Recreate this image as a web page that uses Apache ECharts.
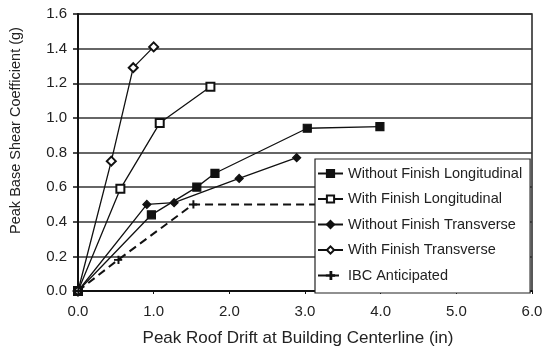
<!DOCTYPE html>
<html><head><meta charset="utf-8">
<script src="https://cdn.jsdelivr.net/npm/echarts@6/dist/echarts.min.js"></script>
<style>html,body{margin:0;padding:0;background:#fff}#c{width:546px;height:352px}</style>
</head><body><div id="c"></div>
<script>
// Data
const seriesNames = ["Without Finish Longitudinal","With Finish Longitudinal","Without Finish Transverse","With Finish Transverse","IBC Anticipated"];
const woFinishLong = [[0,0],[0.97,0.44],[1.57,0.60],[1.81,0.68],[3.03,0.94],[3.99,0.95]];
const wFinishLong  = [[0,0],[0.56,0.59],[1.08,0.97],[1.75,1.18]];
const woFinishTrans = [[0,0],[0.91,0.50],[1.27,0.51],[2.13,0.65],[2.89,0.77]];
const wFinishTrans  = [[0,0],[0.44,0.75],[0.73,1.29],[1.0,1.41]];
const ibc = [[0,0],[0.53,0.18],[1.52,0.50],[4.2,0.50]];
const xTicks = [0,1,2,3,4,5,6];
const yTicks = [0,0.2,0.4,0.6,0.8,1.0,1.2,1.4,1.6];

const FONT = '"Liberation Sans", Arial, sans-serif';
const star = 'path://M0,4.5L9,4.5L9,5.5L0,5.5Z M4.5,0L5.5,0L5.5,10L4.5,10Z';
function mk(name, data, symbol, size, extra) {
  return Object.assign({
    name, type:'line', data, symbol, symbolSize:size, showSymbol:true,
    lineStyle:{color:'#111', width:1.3},
    itemStyle:{color:'#111', borderColor:'#111', borderWidth:1.2},
    emphasis:{disabled:true}, animation:false
  }, extra||{});
}
const chart = echarts.init(document.getElementById('c'));
chart.setOption({
  animation:false,
  textStyle:{fontFamily:FONT},
  grid:{left:76, right:14, top:14, bottom:59, show:true, borderColor:'#222', borderWidth:1.5},
  xAxis:{type:'value', min:xTicks[0], max:xTicks[xTicks.length-1], interval:1,
    name:'Peak Roof Drift at Building Centerline (in)', nameLocation:'middle', nameGap:39,
    nameTextStyle:{fontSize:17, color:'#222', fontFamily:FONT, padding:[0,14,0,0]},
    axisLine:{lineStyle:{color:'#111', width:2}},
    axisTick:{show:true, inside:false, length:3, lineStyle:{color:'#111'}},
    axisLabel:{fontSize:15, color:'#222', margin:13, formatter:v=>v.toFixed(1), fontFamily:FONT},
    splitLine:{show:false}},
  yAxis:{type:'value', min:yTicks[0], max:yTicks[yTicks.length-1], interval:0.2,
    name:'Peak Base Shear Coefficient (g)', nameLocation:'middle', nameGap:55, nameRotate:90,
    nameTextStyle:{fontSize:14.5, color:'#222', fontFamily:FONT, padding:[0,0,0,44]},
    axisLine:{show:true, lineStyle:{color:'#111', width:2}},
    axisTick:{show:true, length:5, lineStyle:{color:'#111', width:1.5}},
    axisLabel:{fontSize:15, color:'#222', margin:11, formatter:v=>v.toFixed(1), fontFamily:FONT},
    splitLine:{show:true, lineStyle:{color:'#333', width:1.5}}},
  legend:{orient:'vertical', left:315, top:159, data:seriesNames,
    backgroundColor:'#fff', borderColor:'#222', borderWidth:1.2,
    padding:[7,8,10,2], itemGap:10.5, itemWidth:25, itemHeight:9,
    textStyle:{fontSize:14.5, color:'#222', fontFamily:FONT},
    selectedMode:false},
  series:[
    mk(seriesNames[0], woFinishLong, 'rect', 8),
    mk(seriesNames[1], wFinishLong, 'emptyRect', 8),
    mk(seriesNames[2], woFinishTrans, 'diamond', 8),
    mk(seriesNames[3], wFinishTrans, 'emptyDiamond', 9),
    mk(seriesNames[4], ibc, star, 7, {lineStyle:{color:'#111', width:2, type:[8,5]}})
  ]
});
</script></body></html>
